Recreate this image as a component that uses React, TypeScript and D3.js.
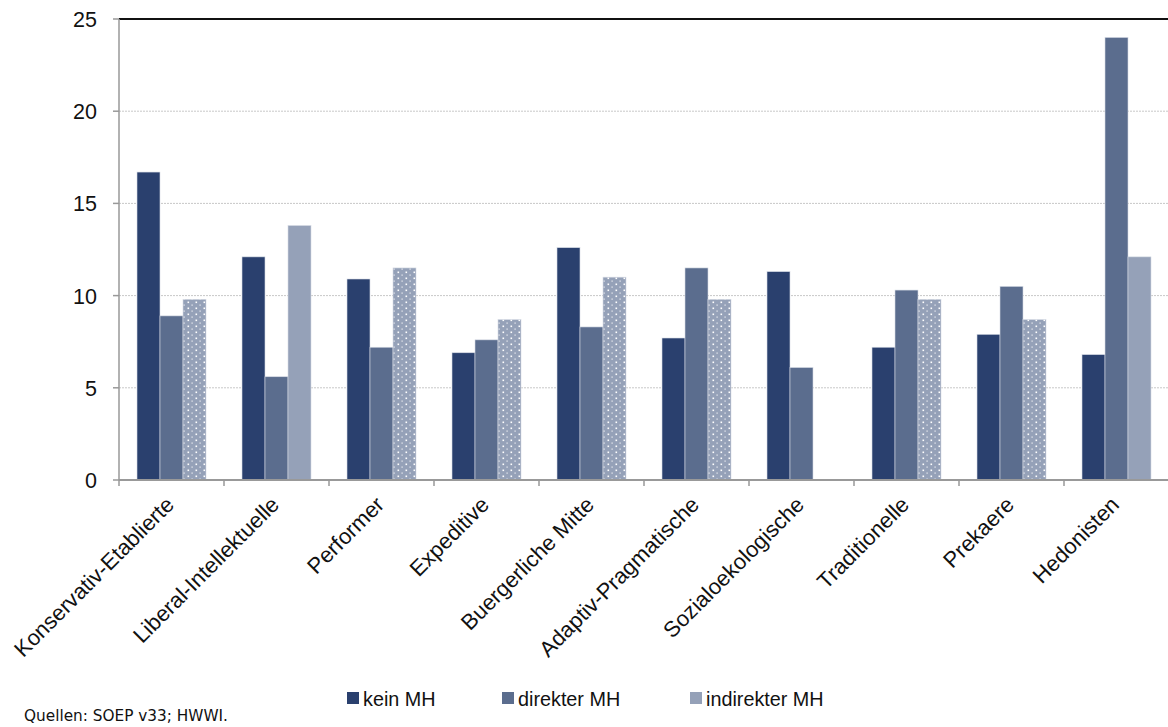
import React from "react";
import * as d3 from "d3";

const categories = [
  "Konservativ-Etablierte",
  "Liberal-Intellektuelle",
  "Performer",
  "Expeditive",
  "Buergerliche Mitte",
  "Adaptiv-Pragmatische",
  "Sozialoekologische",
  "Traditionelle",
  "Prekaere",
  "Hedonisten",
];
const keinMH = [16.7, 12.1, 10.9, 6.9, 12.6, 7.7, 11.3, 7.2, 7.9, 6.8];
const direkterMH = [8.9, 5.6, 7.2, 7.6, 8.3, 11.5, 6.1, 10.3, 10.5, 24.0];
const indirekterMH = [9.8, 13.8, 11.5, 8.7, 11.0, 9.8, 0, 9.8, 8.7, 12.1];
const dottedIndirekt = [true, false, true, true, true, true, true, true, true, false];
const seriesNames = ["kein MH", "direkter MH", "indirekter MH"];
const seriesColors = ["#2a406e", "#5b6d8e", "#95a1b8"];
const yTicks = [0, 5, 10, 15, 20, 25];

export default function App() {
  const W = 1168, H = 727;
  const left = 119, right = 1169, top = 19, bottom = 480;
  const x = d3.scaleBand<string>().domain(categories).range([left, right]).paddingInner(0).paddingOuter(0);
  const inner = d3.scaleBand<string>().domain(seriesNames).range([0, 69]);
  const y = d3.scaleLinear().domain([0, 25]).range([bottom, top]);
  const series = [keinMH, direkterMH, indirekterMH];
  const font = "'Liberation Sans', Arial, sans-serif";

  return (
    <svg width={W} height={H} style={{ position: "absolute", left: 0, top: 0 }} fontFamily={font}>
      <defs>
        <pattern id="dots" patternUnits="userSpaceOnUse" width="8" height="6" x="0" y="0">
          <rect width="8" height="6" fill={seriesColors[2]} />
          <rect x="2.5" y="1.5" width="1.6" height="1.6" fill="#ffffff" />
          <rect x="6.5" y="4.5" width="1.2" height="1.2" fill="#f0f2f6" />
        </pattern>
      </defs>
      {yTicks.filter(t => t > 0 && t < 25).map(t => (
        <line key={t} x1={left} x2={W} y1={y(t)} y2={y(t)} stroke="#c8c8c8" strokeDasharray="2,1" strokeWidth={1} />
      ))}
      <line x1={left} x2={W} y1={y(25)} y2={y(25)} stroke="#111" strokeWidth={2} />
      {categories.map((c, i) => (
        <g key={c} transform={`translate(${(x(c) as number) + (x.bandwidth() - 69) / 2},0)`}>
          {series.map((s, j) => {
            const v = s[i];
            if (!v) return null;
            const fill = j === 2 && dottedIndirekt[i] ? "url(#dots)" : seriesColors[j];
            return (
              <rect key={j} x={inner(seriesNames[j])} y={y(v)} width={inner.bandwidth()} height={bottom - y(v)}
                fill={fill} stroke="#d6dbe4" strokeWidth={0.6} />
            );
          })}
        </g>
      ))}
      <line x1={left} x2={left} y1={top} y2={bottom} stroke="#999" strokeWidth={1.5} />
      {yTicks.map(t => (
        <g key={t}>
          <line x1={left - 6} x2={left} y1={y(t)} y2={y(t)} stroke="#999" strokeWidth={1.5} />
          <text x={left - 22} y={y(t) + 8} textAnchor="end" fontSize={21.5} fill="#111">{t}</text>
        </g>
      ))}
      <line x1={left} x2={W} y1={bottom} y2={bottom} stroke="#999" strokeWidth={2} />
      {categories.map((c, i) => (
        <line key={c} x1={x(c) as number} x2={x(c) as number} y1={bottom} y2={bottom + 6} stroke="#999" strokeWidth={1.5} />
      ))}
      {categories.map(c => {
        const cx = (x(c) as number) + x.bandwidth() / 2 + 4;
        const cy = bottom + 26;
        return (
          <text key={c} transform={`translate(${cx},${cy}) rotate(-45)`} textAnchor="end" fontSize={22} fill="#111">{c}</text>
        );
      })}
      {seriesNames.map((n, i) => {
        const lx = [347, 502, 690][i];
        return (
          <g key={n}>
            <rect x={lx} y={692} width={12} height={12} fill={seriesColors[i]} />
            <text x={lx + 16} y={706} fontSize={19.8} fill="#111">{n}</text>
          </g>
        );
      })}
      <text x={24} y={721} fontSize={15.3} fill="#111" fontFamily="'DejaVu Sans', sans-serif">Quellen: SOEP v33; HWWI.</text>
    </svg>
  );
}
